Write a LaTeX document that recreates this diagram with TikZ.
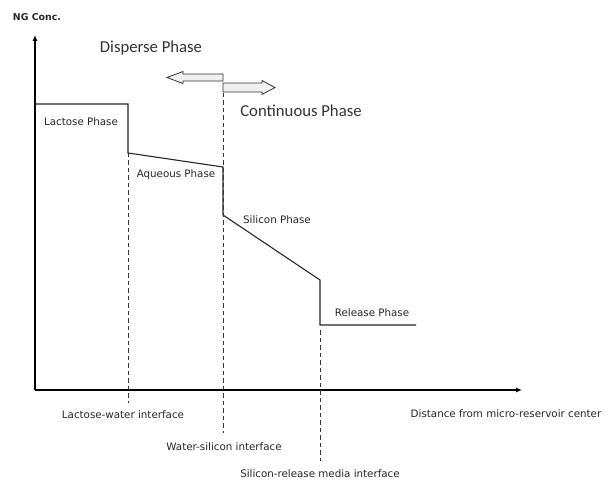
\documentclass[tikz,border=0pt]{standalone}
\usepackage{fontspec}
\setmainfont{Carlito}
\newfontfamily\smallfont{DejaVu Sans}
\usetikzlibrary{arrows.meta}
\begin{document}
\begin{tikzpicture}[x=1pt,y=-1pt,
  axis/.style={line width=1.1pt,-{Latex[length=6pt,width=5pt]}},
  curve/.style={line width=1.1pt,black!85},
  iface/.style={line width=1pt,dash pattern=on 4.5pt off 3pt,black!80},
  fat/.style={draw=black!80,line width=0.8pt,fill=gray!12},
  big/.style={font=\fontsize{16.7}{19}\selectfont,text=black!80,inner sep=0pt},
  lbl/.style={font=\smallfont\fontsize{10.3}{12}\selectfont,text=black!85,inner sep=0pt}]
\useasboundingbox (0,0) rectangle (616,481);
% axes
\coordinate (o) at (35,390);
\coordinate (ytip) at (35,35);
\coordinate (xtip) at (522,390);
\draw[axis] (o) -- (ytip);
\draw[axis] (o) -- (xtip);
% concentration profile
\coordinate (p1) at (35,104);
\coordinate (p2) at (128,104);
\coordinate (p3) at (128,153);
\coordinate (p4) at (223,167);
\coordinate (p5) at (223,215);
\coordinate (p6) at (320,280);
\coordinate (p7) at (320,325);
\coordinate (p8) at (416,325);
\draw[curve] (p1) -- (p2) -- (p3) -- (p4) -- (p5) -- (p6) -- (p7) -- (p8);
% interfaces
\coordinate (d1) at (128,403);
\coordinate (d2top) at (223,93);
\coordinate (d2) at (223,433);
\coordinate (d3top) at (320,330);
\coordinate (d3) at (320,461);
\draw[iface] (p3) -- (d1);
\draw[iface] (d2top) -- (d2);
\draw[iface] (d3top) -- (d3);
% phase arrows
\draw[fat] (223,74) -- (183,74) -- (183,71.5) -- (167,77.5) -- (183,83.5) -- (183,81) -- (223,81) -- cycle;
\draw[fat] (223,83) -- (262,83) -- (262,80.5) -- (275,87.5) -- (262,94.5) -- (262,92) -- (223,92) -- cycle;
% labels
\node[lbl,font=\smallfont\bfseries\fontsize{9.4}{11}\selectfont] (ng) at (37,17) {NG Conc.};
\node[big] (disp) at (151,48) {Disperse Phase};
\node[big] (cont) at (301,111) {Continuous Phase};
\node[lbl] (lac) at (81,122) {Lactose Phase};
\node[lbl] (aq) at (176,175) {Aqueous Phase};
\node[lbl] (sil) at (277,220) {Silicon Phase};
\node[lbl] (rel) at (372,313) {Release Phase};
\node[lbl] (lw) at (123,415) {Lactose-water interface};
\node[lbl] (ws) at (224,447) {Water-silicon interface};
\node[lbl] (sr) at (320,474) {Silicon-release media interface};
\node[lbl] (dist) at (506,414) {Distance from micro-reservoir center};
\end{tikzpicture}
\end{document}
